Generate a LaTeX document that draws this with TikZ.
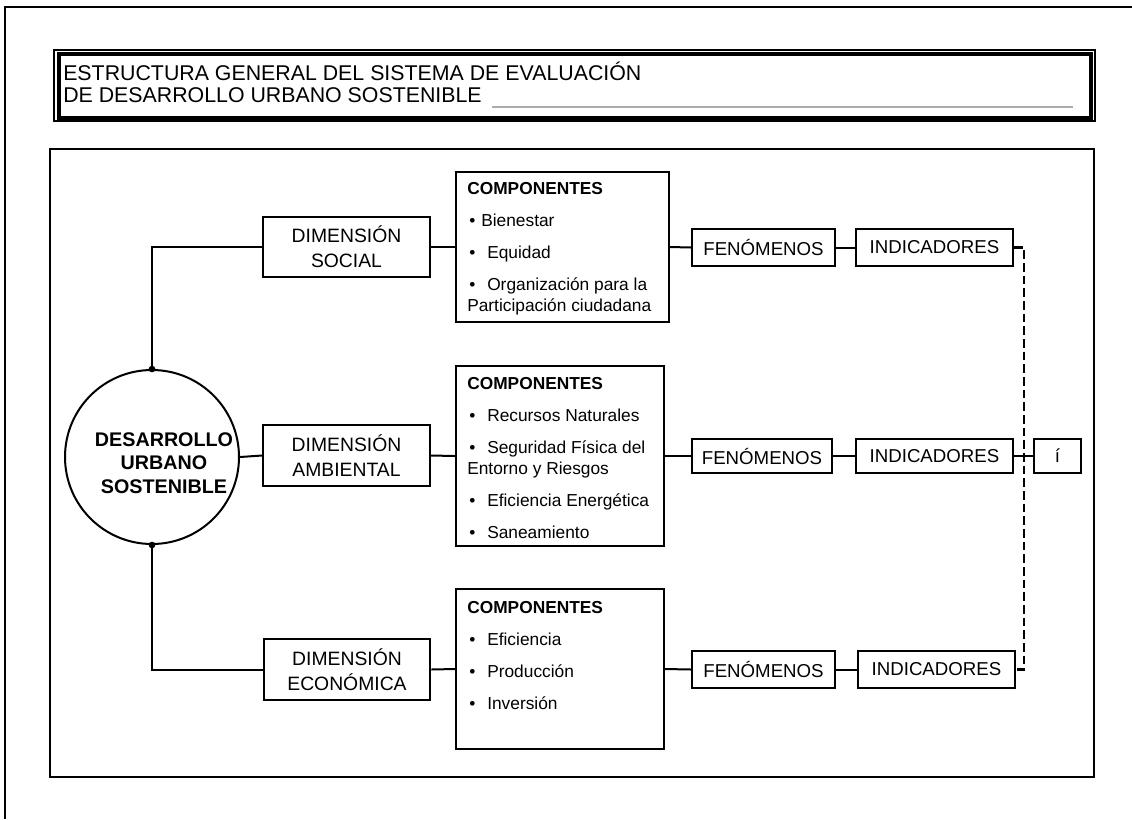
\documentclass[tikz,border=0pt]{standalone}
\usepackage{fontspec}
\setmainfont{Liberation Sans}
\usetikzlibrary{calc}
\tikzset{
  frame line/.style={
    line width=1.5pt
  },
  dim box/.style={
    draw,
    line width=1.5pt,
    minimum width=125pt,
    minimum height=45.5pt,
    inner sep=0pt,
    align=center,
    font=\fontsize{14.5}{18.5}\selectfont
  },
  comp box/.style={
    draw,
    line width=1.5pt,
    inner sep=0pt
  },
  comp text/.style={
    anchor=north west,
    inner sep=0pt,
    align=left,
    font=\fontsize{13}{16}\selectfont
  },
  stage box/.style={
    draw,
    line width=1.5pt,
    minimum height=27.5pt,
    inner sep=0pt,
    font=\fontsize{14}{16}\selectfont
  },
  link/.style={
    line width=1.5pt
  },
  dashed link/.style={
    line width=1.9pt,
    dash pattern=on 6.5pt off 3pt
  },
  joint dot/.style={
    circle,
    fill=black,
    inner sep=0pt,
    minimum size=5pt
  }
}
\newcommand{\itm}[1]{\makebox[15pt][l]{\hspace{1.5pt}•}#1}

\begin{document}
\begin{tikzpicture}[x=0.75pt, y=-0.75pt]

  \useasboundingbox (0,0) rectangle (1132,819);

  %% ---- marco de pagina y titulo ----
  \draw[frame line] (5,819) -- (5,7) -- (1132,7);
  \draw[line width=0.9pt] (54,50) rectangle (1095,121);
  \draw[line width=3pt] (58.5,53.5) rectangle (1090.5,117.5);
  \node[anchor=base west, inner sep=0pt, font=\fontsize{16}{16.5}\selectfont]
      (title1) at (63,80) {ESTRUCTURA GENERAL DEL SISTEMA DE EVALUACIÓN};
  \node[anchor=base west, inner sep=0pt, font=\fontsize{16}{16.5}\selectfont]
      (title2) at (63,102) {DE DESARROLLO URBANO SOSTENIBLE};
  \draw[line width=1.5pt, gray!65] ($(title2.base east)+(10,5)$) -- (1073,107);

  %% ---- recuadro principal ----
  \draw[line width=1.8pt] (50,149) rectangle (1094,777);

  %% ---- circulo central ----
  \node[circle, draw, line width=1.5pt, minimum size=130.5pt, inner sep=0pt]
      (dus) at (152,457) {};
  \node[align=center, inner sep=0pt, font=\bfseries\fontsize{14.8}{17.6}\selectfont]
      (dustext) at (164,463) {DESARROLLO\\URBANO\\SOSTENIBLE};

  %% ---- dimensiones ----
  \node[dim box] (social) at (346.5,247)   {DIMENSIÓN\\SOCIAL};
  \node[dim box] (amb)    at (346.5,455.5) {DIMENSIÓN\\AMBIENTAL};
  \node[dim box] (econ)   at (347,669.5)   {DIMENSIÓN\\ECONÓMICA};

  %% ---- componentes ----
  \node[comp box, minimum width=159.75pt, minimum height=112.5pt] (comp1) at (562.5,247) {};
  \node[comp box, minimum width=156pt, minimum height=135pt]      (comp2) at (560,456) {};
  \node[comp box, minimum width=156pt, minimum height=120pt]      (comp3) at (560,669) {};

  \node[comp text] (comp1text) at ($(comp1.north west)+(12,11)$) {%
    {\bfseries COMPONENTES}\\[8pt]
    \makebox[10.5pt][l]{\hspace{1.5pt}•}Bienestar\\[8pt]
    \itm{Equidad}\\[8pt]
    \itm{Organización para la}\\
    Participación ciudadana};
  \node[comp text] (comp2text) at ($(comp2.north west)+(12,12)$) {%
    {\bfseries COMPONENTES}\\[8pt]
    \itm{Recursos Naturales}\\[8pt]
    \itm{Seguridad Física del}\\
    Entorno y Riesgos\\[8pt]
    \itm{Eficiencia Energética}\\[8pt]
    \itm{Saneamiento}};
  \node[comp text] (comp3text) at ($(comp3.north west)+(12,13)$) {%
    {\bfseries COMPONENTES}\\[8pt]
    \itm{Eficiencia}\\[8pt]
    \itm{Producción}\\[8pt]
    \itm{Inversión}};

  %% ---- fenomenos e indicadores ----
  \node[stage box, minimum width=107.25pt] (fen1) at (763.5,247.5) {FENÓMENOS};
  \node[stage box, minimum width=117.75pt] (ind1) at (934.5,247.5) {INDICADORES};
  \node[stage box, minimum width=105pt, minimum height=25.5pt] (fen2) at (762,456) {FENÓMENOS};
  \node[stage box, minimum width=117.75pt, minimum height=25.5pt] (ind2) at (934.5,456) {INDICADORES};
  \node[stage box, minimum width=35.25pt, minimum height=25.5pt] (acc) at (1057.5,456) {í};
  \node[stage box, minimum width=107.25pt] (fen3) at (763.5,669.5) {FENÓMENOS};
  \node[stage box, minimum width=117.75pt] (ind3) at (936.5,669.5) {INDICADORES};

  %% ---- conexiones ----
  \draw[link] (dus.north) |- (social.west);
  \draw[link] (dus.east) -- (amb.west);
  \draw[link] (dus.south) |- (econ.west);
  \node[joint dot] (dotN) at (dus.north) {};
  \node[joint dot] (dotS) at (dus.south) {};

  \draw[link] (social.east) -- (comp1.west);
  \draw[link] (amb.east)    -- (comp2.west);
  \draw[link] (econ.east)   -- (comp3.west);

  \draw[link] (comp1.east) -- (fen1.west);
  \draw[link] (comp2.east) -- (fen2.west);
  \draw[link] (comp3.east) -- (fen3.west);

  \draw[link] (fen1.east) -- (ind1.west);
  \draw[link] (fen2.east) -- (ind2.west);
  \draw[link] (fen3.east) -- (ind3.west);

  % colector discontinuo de indicadores
  \coordinate (bx) at (1024,0);
  \draw[dashed link] (ind1.east) -- (ind1.east -| bx) -- (ind3.east -| bx) -- (ind3.east);
  \draw[dashed link] (ind2.east) -- (ind2.east -| bx);
  \draw[link] (ind2.east -| bx) -- (acc.west);

\end{tikzpicture}
\end{document}
